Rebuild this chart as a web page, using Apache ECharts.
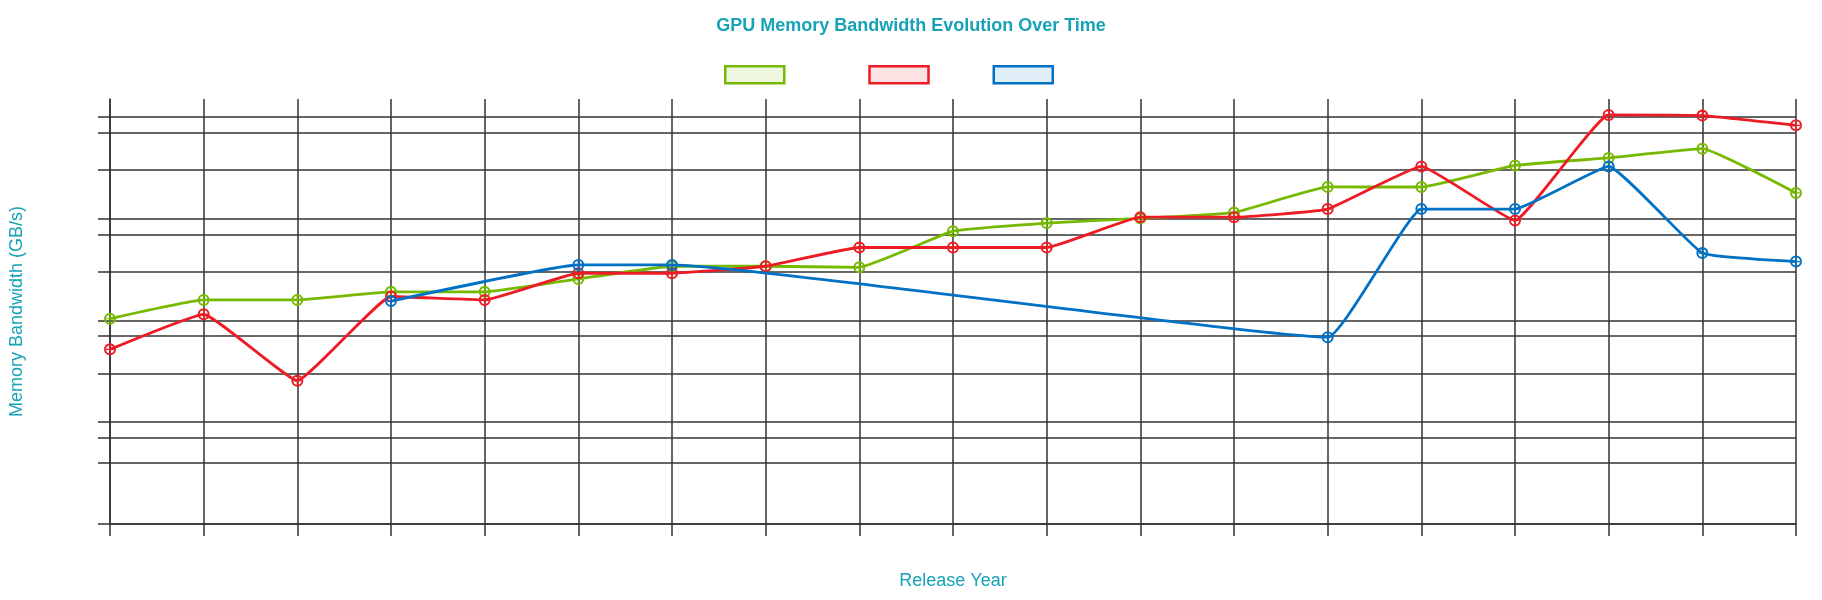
<!DOCTYPE html>
<html>
<head>
<meta charset="utf-8">
<script src="https://cdn.jsdelivr.net/npm/echarts@6/dist/echarts.min.js"></script>
<style>html,body{margin:0;padding:0;background:#fff}#chart{width:1822px;height:600px}</style>
</head>
<body>
<div id="chart"></div>
<script>
var years = ['2006','2007','2008','2009','2010','2011','2012','2013','2014','2015','2016','2017','2018','2019','2020','2021','2022','2023','2024'];
var nvidia = [104, 159, 159, 191, 191, 256, 341, 341, 333, 753, 905, 1007, 1148, 2050, 2048, 3340, 3950, 4875, 1790];
var amd = [52, 115, 25.6, 172, 159, 291, 291, 341, 521, 521, 521, 1035, 1035, 1243, 3265, 960, 10460, 10300, 8270];
var intel = [null, null, null, 155, null, 351, 351, null, null, null, null, null, null, 68.5, 1243, 1243, 3265, 459, 379];
var yTickValues = [1, 4, 7, 10, 30, 70, 100, 300, 700, 1000, 3000, 7000, 10000];
var seriesNames = ['NVIDIA', 'AMD', 'Intel'];
var seriesColors = ['#76b900', '#ed1c24', '#0071c5'];
var legendFills = ['rgba(118,185,0,0.12)', 'rgba(237,28,36,0.12)', 'rgba(0,113,197,0.12)'];

var FONT = '"Liberation Sans", Arial, Helvetica, sans-serif';
var TEAL = '#17a2b8';
var GRIDC = '#333';
var symbolPath = 'path://M0,10A10,10 0 1,0 20,10A10,10 0 1,0 0,10Z M3.4,10A6.6,6.6 0 1,1 16.6,10A6.6,6.6 0 1,1 3.4,10Z M9,3L11,3L11,17L9,17Z M3,9L17,9L17,11L3,11Z';

var chart = echarts.init(document.getElementById('chart'), null, {renderer: 'canvas'});
var datas = [nvidia, amd, intel];
chart.setOption({
  animation: false,
  backgroundColor: '#fff',
  title: {
    text: 'GPU Memory Bandwidth Evolution Over Time',
    left: 'center',
    top: 12,
    textStyle: {color: TEAL, fontSize: 18, fontWeight: 'bold', fontFamily: FONT}
  },
  legend: {
    top: 60,
    left: 719,
    icon: 'rect',
    itemWidth: 59,
    itemHeight: 17,
    itemGap: 19,
    textStyle: {color: 'rgba(0,0,0,0)', fontSize: 18, fontFamily: FONT},
    data: seriesNames.map(function (n, i) {
      return {name: n, itemStyle: {color: legendFills[i], borderColor: seriesColors[i], borderWidth: 2.5}};
    })
  },
  grid: {left: 109, width: 1687, top: 99, bottom: 76, containLabel: false},
  xAxis: {
    type: 'category',
    data: years,
    boundaryGap: false,
    name: 'Release Year',
    nameLocation: 'middle',
    nameGap: 48,
    nameTextStyle: {color: TEAL, fontSize: 18, fontFamily: FONT},
    axisLine: {show: true, lineStyle: {color: GRIDC, width: 1.5}},
    axisTick: {show: true, length: 12, lineStyle: {color: GRIDC, width: 1.5}},
    axisLabel: {show: false},
    splitLine: {show: true, lineStyle: {color: GRIDC, width: 1.5}}
  },
  yAxis: {
    type: 'log',
    logBase: 10,
    min: 1,
    max: 15000,
    name: 'Memory Bandwidth (GB/s)',
    nameLocation: 'middle',
    nameGap: 84,
    nameTextStyle: {color: TEAL, fontSize: 18, fontFamily: FONT},
    axisLine: {show: true, lineStyle: {color: GRIDC, width: 1.5}},
    axisTick: {show: true, length: 12, customValues: yTickValues, lineStyle: {color: GRIDC, width: 1.5}},
    axisLabel: {show: false, customValues: yTickValues},
    splitLine: {show: true, lineStyle: {color: GRIDC, width: 1.5}}
  },
  series: seriesNames.map(function (n, i) {
    return {
      name: n,
      type: 'line',
      data: datas[i],
      smooth: 0.1,
      connectNulls: true,
      symbol: symbolPath,
      symbolSize: 12,
      showSymbol: true,
      lineStyle: {color: seriesColors[i], width: 2.8},
      itemStyle: {color: seriesColors[i]},
      z: 3 + i
    };
  })
});
</script>
</body>
</html>
